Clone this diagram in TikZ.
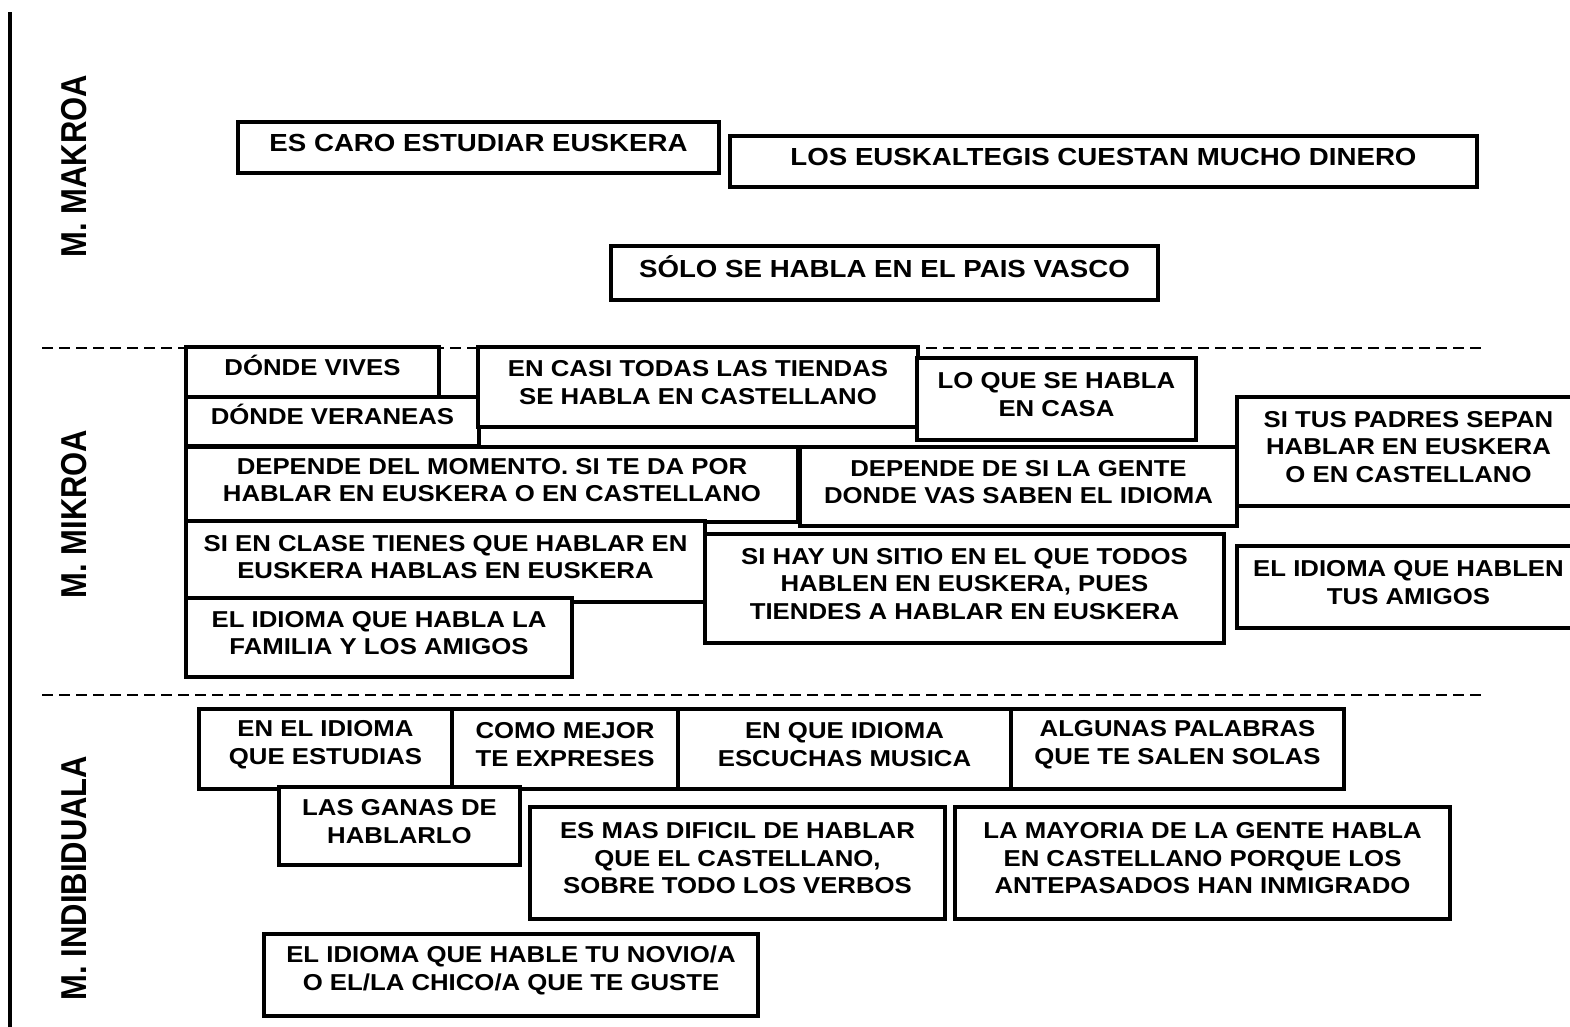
\documentclass[tikz,border=0pt]{standalone}
\usepackage{fontspec}
\setmainfont{Liberation Sans}
\newfontfamily\bxfont{Liberation Sans}[FakeStretch=1.12]
\newfontfamily\lblfont{Liberation Sans}[FakeStretch=0.86]
\tikzset{
  box/.style={draw=black, line width=3.5pt, fill=white, inner sep=0pt, outer sep=0pt, rectangle},
  txt/.style={font=\bxfont\bfseries\fontsize{23}{27.5}\selectfont, align=center, inner sep=0pt},
  bigtxt/.style={font=\bxfont\bfseries\fontsize{24.7}{29}\selectfont, align=center, inner sep=0pt},
  lbl/.style={font=\lblfont\bfseries\fontsize{36}{40}\selectfont, rotate=90, inner sep=0pt},
  sepline/.style={line width=2pt, dash pattern=on 11pt off 6pt},
}
\newcommand\bx[7][txt]{%
  \node[box, minimum width={(#5)-(#3)}, minimum height={(#6)-(#4)}] (#2) at ({((#3)+(#5))/2},{((#4)+(#6))/2}) {};
  \node[#1] (#2t) at ({((#3)+(#5))/2},{((#4)+(#6))/2-4.5}) {#7};}
\newcommand\Oac{\smash{Ó}}
\begin{document}
\begin{tikzpicture}[x=1pt,y=-1pt]
\useasboundingbox (0,0) rectangle (1570,1026);
\fill[white] (0,0) rectangle (1570,1026);
% left axis line
\coordinate (vt) at (10,12);
\coordinate (vb) at (10,1030);
\draw[line width=4pt] (vt) -- (vb);
% separators
\coordinate (s1a) at (42,348); \coordinate (s1b) at (1487,348);
\coordinate (s2a) at (42,695); \coordinate (s2b) at (1487,695);
\draw[sepline] (s1a) -- (s1b);
\draw[sepline] (s2a) -- (s2b);
% level labels
\node[lbl] (lmakro) at (74,166) {M. MAKROA};
\node[lbl] (lmikro) at (74,514) {M. MIKROA};
\node[lbl] (lindi) at (74,878) {M. INDIBIDUALA};
% makro
\bx[bigtxt]{A1}{238}{122}{719}{173}{ES CARO ESTUDIAR EUSKERA}
\bx[bigtxt]{A2}{730}{136}{1477}{187}{LOS EUSKALTEGIS CUESTAN MUCHO DINERO}
\bx[bigtxt]{A3}{611}{246}{1158}{300}{S\Oac LO SE HABLA EN EL PAIS VASCO}
% mikro
\bx{B1}{186}{347}{439}{397}{D\Oac NDE VIVES}
\bx{B2}{186}{397}{479}{446}{D\Oac NDE VERANEAS}
\bx{B3}{478}{347}{918}{427}{EN CASI TODAS LAS TIENDAS\\SE HABLA EN CASTELLANO}
\bx{B4}{917}{358}{1196}{440}{LO QUE SE HABLA\\EN CASA}
\bx{B5}{1237}{397}{1580}{506}{SI TUS PADRES SEPAN\\HABLAR EN EUSKERA\\O EN CASTELLANO}
\bx{B6}{186}{447}{798}{522}{DEPENDE DEL MOMENTO. SI TE DA POR\\HABLAR EN EUSKERA O EN CASTELLANO}
\bx{B7}{800}{447}{1237}{526}{DEPENDE DE SI LA GENTE\\DONDE VAS SABEN EL IDIOMA}
\bx{B8}{186}{521}{705}{602}{SI EN CLASE TIENES QUE HABLAR EN\\EUSKERA HABLAS EN EUSKERA}
\bx{B9}{705}{534}{1224}{643}{SI HAY UN SITIO EN EL QUE TODOS\\HABLEN EN EUSKERA, PUES\\TIENDES A HABLAR EN EUSKERA}
\bx{B10}{1237}{546}{1580}{628}{EL IDIOMA QUE HABLEN\\TUS AMIGOS}
\bx{B11}{186}{598}{572}{677}{EL IDIOMA QUE HABLA LA\\FAMILIA Y LOS AMIGOS}
% indibiduala
\bx{C1}{199}{709}{452}{789}{EN EL IDIOMA\\QUE ESTUDIAS}
\bx{C2}{452}{709}{678}{789}{COMO MEJOR\\TE EXPRESES}
\bx{C3}{678}{709}{1011}{789}{EN QUE IDIOMA\\ESCUCHAS MUSICA}
\bx{C4}{1011}{709}{1344}{789}{ALGUNAS PALABRAS\\QUE TE SALEN SOLAS}
\bx{C5}{279}{787}{520}{865}{LAS GANAS DE\\HABLARLO}
\bx{C6}{530}{807}{945}{919}{ES MAS DIFICIL DE HABLAR\\QUE EL CASTELLANO,\\SOBRE TODO LOS VERBOS}
\bx{C7}{955}{807}{1450}{919}{LA MAYORIA DE LA GENTE HABLA\\EN CASTELLANO PORQUE LOS\\ANTEPASADOS HAN INMIGRADO}
\bx{C8}{264}{934}{758}{1016}{EL IDIOMA QUE HABLE TU NOVIO/A\\O EL/LA CHICO/A QUE TE GUSTE}
\end{tikzpicture}
\end{document}
